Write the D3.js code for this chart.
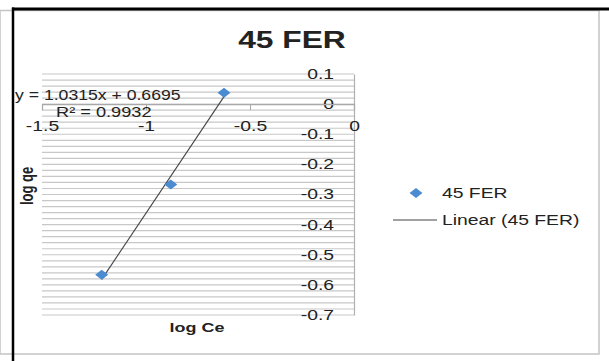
<!DOCTYPE html>
<html><head><meta charset="utf-8">
<script src="https://cdn.jsdelivr.net/npm/d3@7"></script>
<style>body{margin:0;background:#fff}svg{display:block}text{font-family:"Liberation Sans",Arial,sans-serif}</style>
</head><body>
<script>
const seriesName = "45 FER";
const logCe = [-1.213, -0.881, -0.625];
const logQe = [-0.566, -0.267, 0.038];
const slope = 1.0315, intercept = 0.6695, r2 = 0.9932;
const xTicks = [-1.5, -1, -0.5, 0];
const yTicks = [0.1, 0, -0.1, -0.2, -0.3, -0.4, -0.5, -0.6, -0.7];
const SX = 1.38; // horizontal stretch of the reference image

const W = 609, H = 361;
const svg = d3.select("body").append("svg").attr("width", W).attr("height", H);

const x = d3.scaleLinear().domain([-1.5, 0]).range([42, 354]);
const y = d3.scaleLinear().domain([-0.7, 0.1]).range([315, 74]);

function txt(g, px, py, s, size, weight, anchor, sx) {
  return g.append("text")
    .attr("transform", `translate(${px},${py}) scale(${sx || SX},1)`)
    .attr("text-anchor", anchor || "start")
    .attr("dy", "0.35em")
    .attr("font-size", size).attr("font-weight", weight || "normal")
    .attr("fill", "#222").text(s);
}

// outer borders
svg.append("rect").attr("x", 0).attr("y", 10.5).attr("width", 599).attr("height", 343.5)
  .attr("fill", "none").attr("stroke", "#c4c4c4").attr("stroke-width", 1.5);
svg.append("line").attr("x1", 12).attr("x2", W).attr("y1", 9).attr("y2", 9).attr("stroke", "#000").attr("stroke-width", 3);
svg.append("line").attr("x1", 13).attr("x2", 13).attr("y1", 7.5).attr("y2", H).attr("stroke", "#000").attr("stroke-width", 2.5);

// gridlines
svg.append("g").selectAll("line").data(y.ticks(40)).join("line")
  .attr("x1", x(-1.5)).attr("x2", x(0)).attr("y1", d => y(d)).attr("y2", d => y(d))
  .attr("stroke", "#c8c8c8").attr("stroke-width", 1.2);

// y axis (at x = 0)
const yAxis = svg.append("g").attr("transform", `translate(${x(0)},0)`)
  .call(d3.axisLeft(y).tickValues(yTicks).tickSize(0).tickPadding(20).tickFormat(d => String(d)));
yAxis.select(".domain").attr("stroke", "#b0b0b0").attr("stroke-width", 1.2);
yAxis.selectAll("text").attr("x", -20 / SX).attr("transform", `scale(${SX},1)`)
  .attr("font-size", 14).attr("font-family", '"Liberation Sans",Arial,sans-serif').attr("fill", "#222");

// x axis (at y = 0)
const xAxis = svg.append("g").attr("transform", `translate(0,${y(0)})`)
  .call(d3.axisBottom(x).tickValues(xTicks).tickSize(6).tickFormat(d => String(d)));
xAxis.select(".domain").attr("stroke", "#a8a8a8").attr("stroke-width", 1.2);
xAxis.selectAll(".tick line").attr("stroke", "#a8a8a8");
xAxis.selectAll("text").attr("y", 22).attr("dy", "0.35em").attr("transform", `scale(${SX},1)`)
  .attr("font-size", 14).attr("font-family", '"Liberation Sans",Arial,sans-serif').attr("fill", "#222");

// trendline
const xMin = d3.min(logCe), xMax = d3.max(logCe);
svg.append("line")
  .attr("x1", x(xMin)).attr("y1", y(slope * xMin + intercept))
  .attr("x2", x(xMax)).attr("y2", y(slope * xMax + intercept))
  .attr("stroke", "#444").attr("stroke-width", 1.1);

// points
const diamond = "M0,-5 L6.5,0 L0,5 L-6.5,0 Z";
svg.append("g").selectAll("path").data(logCe.map((d, i) => [d, logQe[i]])).join("path")
  .attr("d", diamond).attr("transform", d => `translate(${x(d[0])},${y(d[1])})`)
  .attr("fill", "#4a8bd2");

// equation labels
txt(svg, 15, 95, `y = ${slope}x + ${intercept}`, 14, "normal", "start", 1.26);
txt(svg, 56, 112, `R² = ${r2}`, 14, "normal", "start", 1.3);

// title & axis titles
txt(svg, 292, 40, seriesName, 23, "bold", "middle");
txt(svg, 197, 327, "log Ce", 13, "bold", "middle");
svg.append("text").attr("transform", `translate(27,186) scale(${SX},1) rotate(-90)`)
  .attr("text-anchor", "middle").attr("dy", "0.35em").attr("font-size", 13).attr("font-weight", "bold")
  .attr("fill", "#222").text("log qe");

// legend
const lg = svg.append("g");
lg.append("path").attr("d", diamond).attr("transform", "translate(416,193)").attr("fill", "#4a8bd2");
txt(lg, 442, 193, seriesName, 14);
lg.append("line").attr("x1", 393).attr("x2", 437).attr("y1", 220).attr("y2", 220).attr("stroke", "#444").attr("stroke-width", 1.1);
txt(lg, 442, 220, `Linear (${seriesName})`, 14);
</script>
</body></html>
